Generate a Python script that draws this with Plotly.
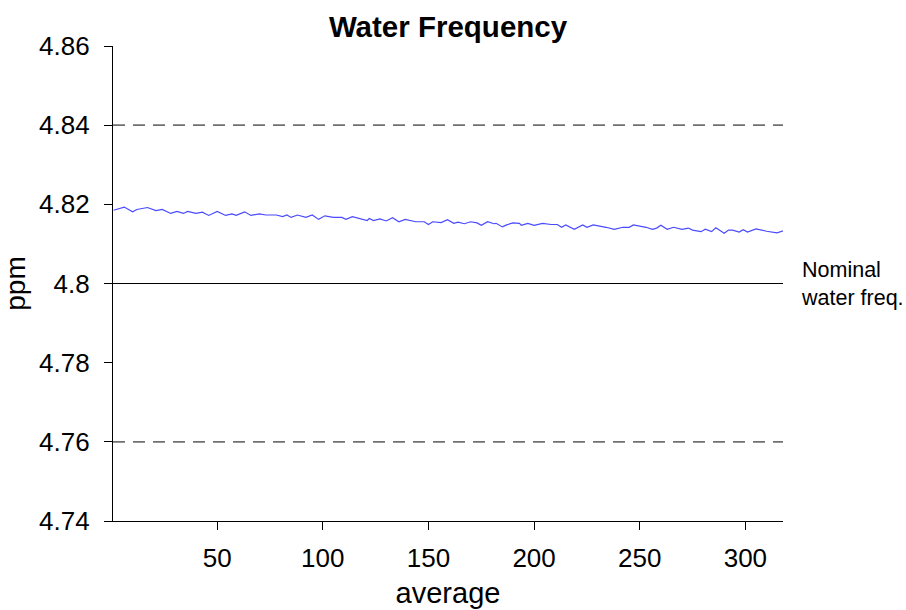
import plotly.graph_objects as go

# Data
avg = [1, 6, 10, 12, 17, 21, 24, 28, 31, 34, 36, 40, 43, 46, 50, 54, 57, 59, 63, 66, 70, 73,
       78, 81, 83, 85, 88, 92, 95, 98, 101, 105, 109, 111, 114, 118, 121, 122, 124, 127, 130,
       133, 136, 139, 144, 148, 150, 152, 156, 159, 162, 164, 167, 170, 173, 175, 178, 181,
       182, 185, 187, 190, 193, 194, 197, 200, 204, 208, 211, 213, 215, 219, 223, 225, 228,
       234, 238, 242, 245, 247, 253, 256, 258, 260, 263, 266, 270, 273, 275, 279, 281, 284,
       286, 290, 292, 294, 297, 299, 301, 305, 310, 315, 318]
ppm = [4.8185, 4.8193, 4.8181, 4.8187, 4.8192, 4.8184, 4.8187, 4.8177, 4.8182, 4.8177, 4.8182,
       4.8177, 4.8180, 4.8172, 4.8182, 4.8172, 4.8176, 4.8172, 4.8181, 4.8172, 4.8176, 4.8173,
       4.8173, 4.8169, 4.8173, 4.8167, 4.8173, 4.8167, 4.8173, 4.8162, 4.8171, 4.8167, 4.8167,
       4.8162, 4.8169, 4.8163, 4.8159, 4.8164, 4.8159, 4.8163, 4.8158, 4.8166, 4.8156, 4.8162,
       4.8156, 4.8156, 4.8149, 4.8156, 4.8154, 4.8161, 4.8152, 4.8155, 4.8151, 4.8156, 4.8153,
       4.8147, 4.8156, 4.8151, 4.8152, 4.8143, 4.8148, 4.8153, 4.8152, 4.8147, 4.8152, 4.8147,
       4.8152, 4.8149, 4.8149, 4.8142, 4.8148, 4.8137, 4.8148, 4.8142, 4.8148, 4.8142, 4.8137,
       4.8142, 4.8142, 4.8148, 4.8142, 4.8137, 4.8140, 4.8147, 4.8137, 4.8142, 4.8137, 4.8140,
       4.8135, 4.8131, 4.8137, 4.8131, 4.8141, 4.8127, 4.8135, 4.8135, 4.8130, 4.8136, 4.8130,
       4.8138, 4.8132, 4.8128, 4.8133]

nominal = 4.80
limits = [4.84, 4.76]

y_ticks = [4.86, 4.84, 4.82, 4.80, 4.78, 4.76, 4.74]
y_tick_text = ["4.86", "4.84", "4.82", "4.8", "4.78", "4.76", "4.74"]
x_ticks = [50, 100, 150, 200, 250, 300]

x_range = [0.7, 317.8]

FONT = "Liberation Sans, Arial, sans-serif"

fig = go.Figure()
for lim in limits:
    fig.add_trace(go.Scatter(x=x_range, y=[lim, lim], mode="lines",
                             line=dict(color="#707070", width=1.6, dash="12px,8px"),
                             hoverinfo="skip", showlegend=False))
fig.add_trace(go.Scatter(x=x_range, y=[nominal, nominal], mode="lines",
                         line=dict(color="black", width=1.2),
                         hoverinfo="skip", showlegend=False))
fig.add_trace(go.Scatter(x=avg, y=ppm, mode="lines",
                         line=dict(color="#4a4aff", width=1.2),
                         showlegend=False))

fig.add_annotation(x=1, xref="paper", xanchor="left", xshift=16,
                   y=nominal, yref="y", yanchor="middle",
                   text="Nominal<br>water freq.", showarrow=False, align="left",
                   font=dict(family=FONT, size=21.5, color="black"))

fig.update_layout(
    width=906, height=610,
    margin=dict(l=113, r=123, t=46, b=89),
    paper_bgcolor="white", plot_bgcolor="white",
    font=dict(family=FONT, color="black"),
    title=dict(text="<b>Water Frequency</b>", x=(113 + 783) / 2 / 906, xanchor="center",
               y=1 - 27 / 610, yanchor="middle",
               font=dict(family=FONT, size=29.5, color="black")),
    xaxis=dict(range=x_range, tickvals=x_ticks, showgrid=False, zeroline=False,
               showline=True, linecolor="black", linewidth=1.2,
               ticks="outside", ticklen=8, tickcolor="black", tickwidth=1.2,
               tickfont=dict(family=FONT, size=26), ticklabelstandoff=6,
               automargin=False,
               title=dict(text="average", font=dict(family=FONT, size=29), standoff=10)),
    yaxis=dict(range=[4.74, 4.86], tickvals=y_ticks, ticktext=y_tick_text,
               showgrid=False, zeroline=False,
               showline=True, linecolor="black", linewidth=1.2,
               ticks="outside", ticklen=8, tickcolor="black", tickwidth=1.2,
               tickfont=dict(family=FONT, size=26), ticklabelstandoff=9,
               automargin=False,
               title=dict(text="ppm", font=dict(family=FONT, size=28), standoff=12)),
)

fig.write_html("out.html")
